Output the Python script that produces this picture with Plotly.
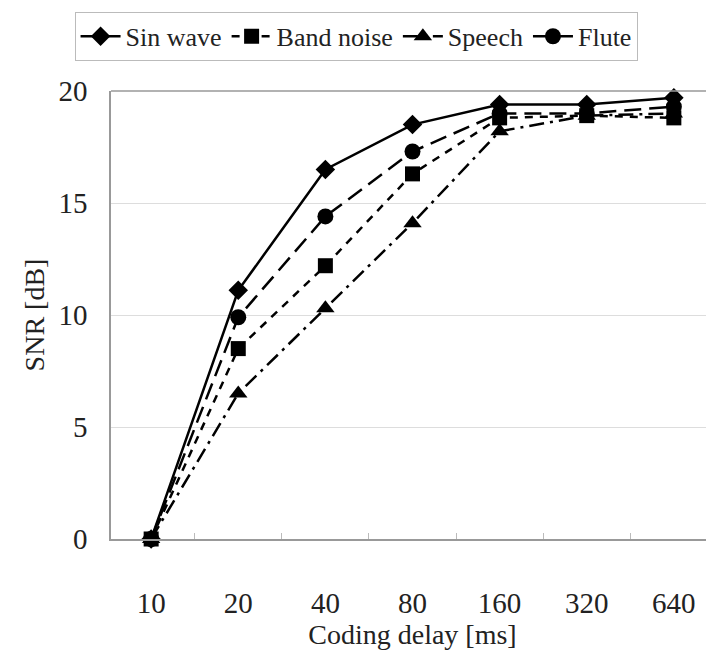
import plotly.graph_objects as go

delays = ["10", "20", "40", "80", "160", "320", "640"]
sin_wave = [0, 11.1, 16.5, 18.5, 19.4, 19.4, 19.7]
band_noise = [0, 8.5, 12.2, 16.3, 18.8, 18.9, 18.8]
speech = [0, 6.5, 10.3, 14.1, 18.2, 18.9, 19.0]
flute = [0, 9.9, 14.4, 17.3, 19.0, 19.0, 19.3]

FONT = "Liberation Serif"

# (name, values, dash, symbol, size, legend rank) — drawn in this order
series = [
    ("Sin wave", sin_wave, "solid", "diamond", 15, 1),
    ("Speech", speech, "15px,6px,3px,6px", "triangle-up", 16, 3),
    ("Flute", flute, "17px,8px", "circle", 16, 4),
    ("Band noise", band_noise, "8px,7px", "square", 15, 2),
]

fig = go.Figure()
for name, vals, dash, sym, size, rank in series:
    fig.add_trace(go.Scatter(
        x=delays, y=vals, name=name, mode="lines+markers",
        line=dict(color="black", width=2.5, dash=dash),
        marker=dict(symbol=sym, size=size, color="black"),
        cliponaxis=False, legendrank=rank,
    ))

# page body has an 8px default margin; figure sized/positioned to compensate
fig.update_layout(
    width=706, height=642,
    paper_bgcolor="white", plot_bgcolor="white",
    margin=dict(l=103, r=0, t=83, b=111, autoexpand=False),
    font=dict(family=FONT, size=29, color="#222"),
    showlegend=True,
    legend=dict(
        orientation="h", x=0.493, xref="container", xanchor="center",
        y=0.994, yref="container", yanchor="top",
        bordercolor="#bbbbbb", borderwidth=1,
        font=dict(family=FONT, size=26, color="#222"),
        itemwidth=40, entrywidth=0, tracegroupgap=0,
    ),
    xaxis=dict(
        type="category", showgrid=False, automargin=False,
        showline=True, linecolor="#999999", linewidth=1.5,
        ticks="inside", tickson="boundaries", ticklen=6, tickcolor="#bbbbbb",
        ticklabelstandoff=37,
        title=dict(text="Coding delay [ms]", font=dict(size=28), standoff=3),
        mirror=False,
    ),
    yaxis=dict(
        range=[0, 20], dtick=5, showgrid=True, gridcolor="#dddddd", gridwidth=1,
        showline=True, linecolor="#999999", linewidth=1.5, zeroline=False,
        ticks="", ticklabelstandoff=16, automargin=False,
        title=dict(text="SNR [dB]", font=dict(size=28), standoff=6),
    ),
)
fig.add_shape(type="line", xref="paper", yref="paper", x0=0, x1=1, y0=1, y1=1,
              line=dict(color="#999999", width=1.5))

fig.write_html("out.html")
